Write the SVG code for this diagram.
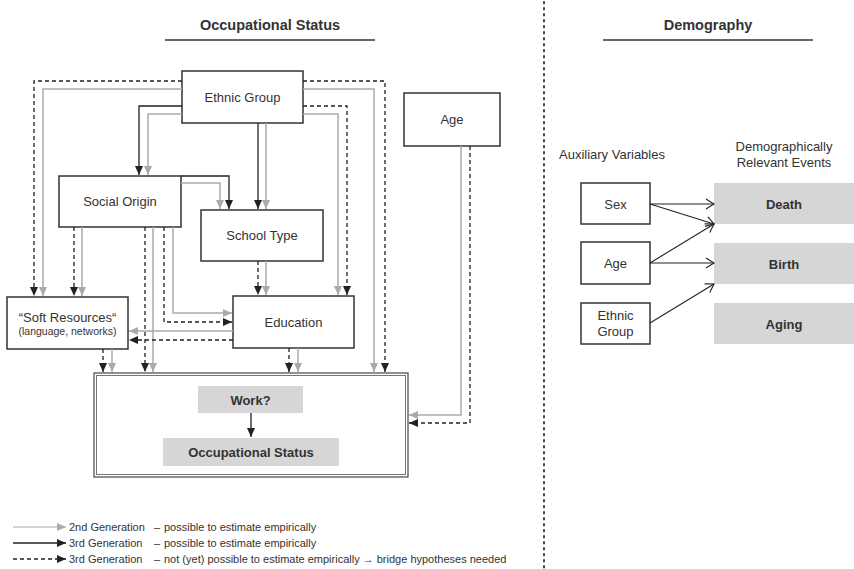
<svg xmlns="http://www.w3.org/2000/svg" width="854" height="569" viewBox="0 0 854 569">
<style>
text{font-family:"Liberation Sans",Arial,sans-serif;fill:#333}
.box{fill:#fff;stroke:#333;stroke-width:1.5}
.ev{fill:#d6d6d6;stroke:none}
.lbl{font-size:13px;text-anchor:middle}
.b{font-weight:bold}
.g{fill:none;stroke:#aaa;stroke-width:1.5}
.k{fill:none;stroke:#222;stroke-width:1.3}
.d{fill:none;stroke:#222;stroke-width:1.3;stroke-dasharray:4 3}
.o{fill:none;stroke:#222;stroke-width:1.1}
.leg{font-size:11px}
</style>
<defs>
<marker id="ag" markerUnits="userSpaceOnUse" markerWidth="10" markerHeight="10" viewBox="0 0 10 10" refX="9" refY="5" orient="auto"><path d="M0,1 L9,5 L0,9 z" fill="#aaa"/></marker>
<marker id="ak" markerUnits="userSpaceOnUse" markerWidth="10" markerHeight="10" viewBox="0 0 10 10" refX="9" refY="5" orient="auto"><path d="M0,1 L9,5 L0,9 z" fill="#222"/></marker>
<marker id="ao" markerUnits="userSpaceOnUse" markerWidth="12" markerHeight="12" viewBox="0 0 12 12" refX="11" refY="6" orient="auto"><path d="M3,1 L11,6 L3,11" fill="none" stroke="#222" stroke-width="1.1"/></marker>
</defs>

<!-- headings -->
<g id="headings">
<text x="270" y="30" font-size="14.5" text-anchor="middle" class="b">Occupational Status</text>
<line x1="165" y1="40" x2="375" y2="40" stroke="#333" stroke-width="1.3"/>
<text x="708" y="30" font-size="14.5" text-anchor="middle" class="b">Demography</text>
<line x1="603" y1="40" x2="813" y2="40" stroke="#333" stroke-width="1.3"/>
<line x1="544" y1="2" x2="544" y2="569" stroke="#333" stroke-width="1.8" stroke-dasharray="1.5 4.5" stroke-linecap="round"/>
</g>

<!-- nodes -->
<g id="ethnic-group"><rect class="box" x="182" y="71" width="121" height="52"/><text class="lbl" x="242.5" y="102">Ethnic Group</text></g>
<g id="social-origin"><rect class="box" x="59" y="176" width="122" height="51"/><text class="lbl" x="120" y="206">Social Origin</text></g>
<g id="school-type"><rect class="box" x="201" y="210" width="122" height="51"/><text class="lbl" x="262" y="240">School Type</text></g>
<g id="soft-resources"><rect class="box" x="7" y="297" width="121" height="52"/><text class="lbl" x="67.5" y="322">“Soft Resources“</text><text x="67.5" y="334.5" font-size="10.5" text-anchor="middle">(language, networks)</text></g>
<g id="education"><rect class="box" x="233" y="296" width="121" height="52"/><text class="lbl" x="293.5" y="327">Education</text></g>
<g id="age"><rect class="box" x="404" y="93" width="96" height="53"/><text class="lbl" x="452" y="124">Age</text></g>
<g id="work-box">
<rect x="94" y="373" width="314" height="104" fill="#fff" stroke="#555" stroke-width="1.3"/>
<rect x="96.5" y="375.5" width="309" height="99" fill="none" stroke="#777" stroke-width="1"/>
</g>
<g id="work"><rect class="ev" x="198" y="386" width="105" height="27"/><text class="lbl b" x="250.5" y="404.5">Work?</text></g>
<g id="occupational-status"><rect class="ev" x="163" y="438" width="176" height="28"/><text class="lbl b" x="251" y="456.5">Occupational Status</text></g>

<!-- demography -->
<g id="demo-headers">
<text x="559" y="159" font-size="13">Auxiliary Variables</text>
<text x="784" y="151" font-size="13" text-anchor="middle">Demographically</text>
<text x="784" y="167" font-size="13" text-anchor="middle">Relevant Events</text>
</g>
<g id="sex"><rect class="box" x="581" y="183" width="69" height="41"/><text class="lbl" x="615.5" y="208.5">Sex</text></g>
<g id="age2"><rect class="box" x="581" y="242" width="69" height="42"/><text class="lbl" x="615.5" y="268">Age</text></g>
<g id="ethnic2"><rect class="box" x="581" y="303" width="69" height="41"/><text class="lbl" x="615.5" y="320">Ethnic</text><text class="lbl" x="615.5" y="336">Group</text></g>
<g id="death"><rect class="ev" x="714" y="183" width="140" height="41"/><text class="lbl b" x="784" y="209">Death</text></g>
<g id="birth"><rect class="ev" x="714" y="243" width="140" height="41"/><text class="lbl b" x="784" y="268.5">Birth</text></g>
<g id="aging"><rect class="ev" x="714" y="303" width="140" height="41"/><text class="lbl b" x="784" y="329">Aging</text></g>

<!-- connectors -->
<g id="connectors">
<path class="d" d="M182,81 H34 V296" marker-end="url(#ak)"/>
<path class="g" d="M182,89 H43 V296" marker-end="url(#ag)"/>
<path class="d" d="M303,81 H385 V372" marker-end="url(#ak)"/>
<path class="g" d="M303,89 H374 V372" marker-end="url(#ag)"/>
<path class="k" d="M182,106 H139 V175" marker-end="url(#ak)"/>
<path class="g" d="M182,114 H148 V175" marker-end="url(#ag)"/>
<path class="d" d="M303,106 H347 V295" marker-end="url(#ak)"/>
<path class="g" d="M303,114 H338 V295" marker-end="url(#ag)"/>
<path class="k" d="M258,123 V209" marker-end="url(#ak)"/>
<path class="g" d="M266,123 V209" marker-end="url(#ag)"/>
<path class="k" d="M181,176 H229 V209" marker-end="url(#ak)"/>
<path class="g" d="M181,183 H220 V209" marker-end="url(#ag)"/>
<path class="d" d="M74,227 V296" marker-end="url(#ak)"/>
<path class="g" d="M82,227 V296" marker-end="url(#ag)"/>
<path class="d" d="M145,227 V372" marker-end="url(#ak)"/>
<path class="g" d="M153,227 V372" marker-end="url(#ag)"/>
<path class="d" d="M164,227 V322 H232" marker-end="url(#ak)"/>
<path class="g" d="M173,227 V313 H232" marker-end="url(#ag)"/>
<path class="d" d="M258,261 V295" marker-end="url(#ak)"/>
<path class="g" d="M266,261 V295" marker-end="url(#ag)"/>
<path class="g" d="M233,331 H129" marker-end="url(#ag)"/>
<path class="d" d="M233,340 H129" marker-end="url(#ak)"/>
<path class="d" d="M103,349 V372" marker-end="url(#ak)"/>
<path class="g" d="M112,349 V372" marker-end="url(#ag)"/>
<path class="d" d="M289,348 V372" marker-end="url(#ak)"/>
<path class="g" d="M298,348 V372" marker-end="url(#ag)"/>
<path class="g" d="M461,146 V415 H409" marker-end="url(#ag)"/>
<path class="d" d="M470,146 V423 H409" marker-end="url(#ak)"/>
<path class="k" d="M251,413 V437" marker-end="url(#ak)"/>
<path class="o" d="M650,204 H714" marker-end="url(#ao)"/>
<path class="o" d="M650,204 L714,224" marker-end="url(#ao)"/>
<path class="o" d="M650,263 L714,224" marker-end="url(#ao)"/>
<path class="o" d="M650,263 H714" marker-end="url(#ao)"/>
<path class="o" d="M650,323 L714,284" marker-end="url(#ao)"/>
</g>

<!-- legend -->
<g id="legend">
<path class="g" d="M13,527 H66" marker-end="url(#ag)" style="stroke-width:1.2"/>
<path class="k" d="M13,543 H66" marker-end="url(#ak)"/>
<path class="d" d="M13,559 H66" marker-end="url(#ak)"/>
<text class="leg" x="69" y="531">2nd Generation</text><text class="leg" x="154" y="531">–</text><text class="leg" x="164" y="531">possible to estimate empirically</text>
<text class="leg" x="69" y="547">3rd Generation</text><text class="leg" x="154" y="547">–</text><text class="leg" x="164" y="547">possible to estimate empirically</text>
<text class="leg" x="69" y="563">3rd Generation</text><text class="leg" x="154" y="563">–</text><text class="leg" x="164" y="563">not (yet) possible to estimate empirically → bridge hypotheses needed</text>
</g>
</svg>
